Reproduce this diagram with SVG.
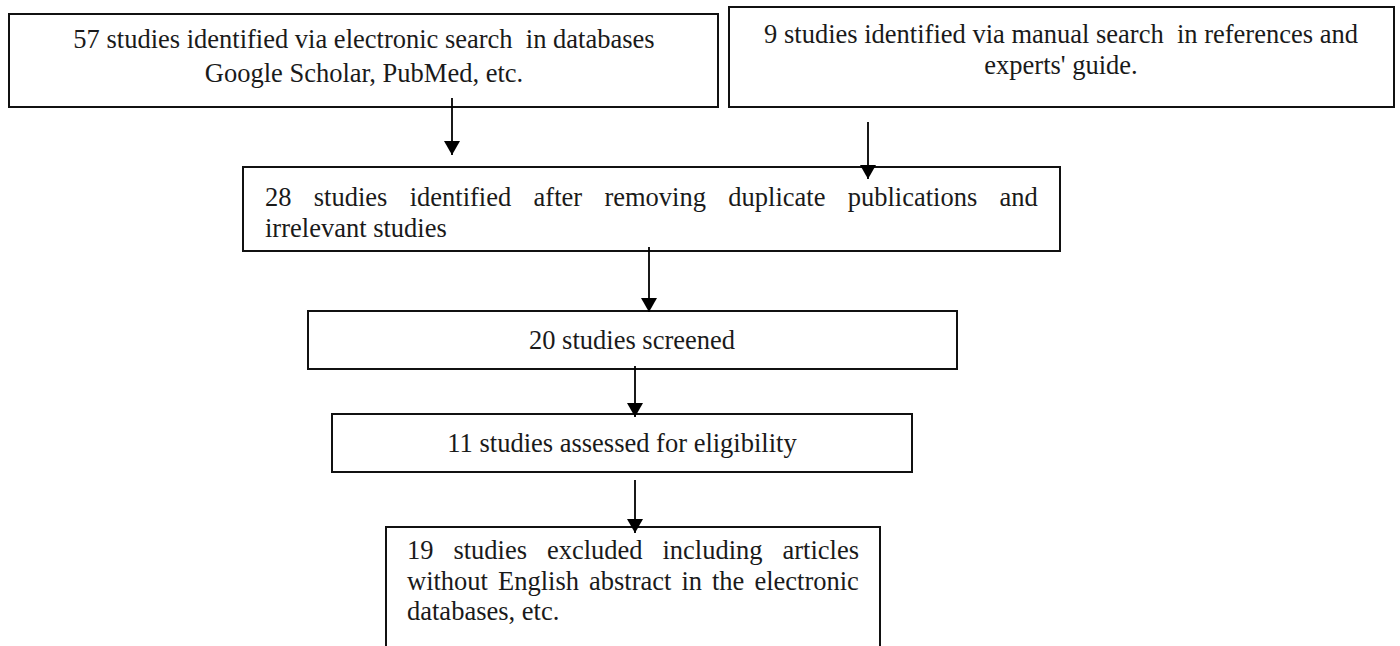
<svg xmlns="http://www.w3.org/2000/svg" width="1400" height="646" viewBox="0 0 1400 646">
  <style>
    .box { fill: #ffffff; stroke: #111111; stroke-width: 2; }
    .t { font-family: "Liberation Serif", "Times New Roman", serif; font-size: 26.5px; fill: #1a1a1a; }
    .c { text-anchor: middle; }
    .edge { stroke: #000000; stroke-width: 1.8; fill: none; marker-end: url(#arrow); }
  </style>
  <defs>
    <marker id="arrow" markerUnits="userSpaceOnUse" viewBox="0 0 14 16" refX="14" refY="8" markerWidth="14" markerHeight="16" orient="auto">
      <path d="M0,0 L14,8 L0,16 z" fill="#000000"/>
    </marker>
  </defs>
  <rect x="0" y="0" width="1400" height="646" fill="#ffffff"/>

  <g id="node-electronic">
    <rect class="box" x="9" y="14" width="709" height="93"/>
    <text class="t c" x="364" y="48" xml:space="preserve">57 studies identified via electronic search  in databases</text>
    <text class="t c" x="364" y="82">Google Scholar, PubMed, etc.</text>
  </g>

  <g id="node-manual">
    <rect class="box" x="729" y="7" width="665" height="100"/>
    <text class="t c" x="1061" y="43" xml:space="preserve">9 studies identified via manual search  in references and</text>
    <text class="t c" x="1061" y="74">experts' guide.</text>
  </g>

  <g id="node-deduplicated">
    <rect class="box" x="243" y="167" width="817" height="84"/>
    <text class="t" y="206"><tspan x="265">28</tspan><tspan x="313.8">studies</tspan><tspan x="409.7">identified</tspan><tspan x="533.6">after</tspan><tspan x="604.4">removing</tspan><tspan x="728.3">duplicate</tspan><tspan x="847.7">publications</tspan><tspan x="999.6">and</tspan></text>
    <text class="t" x="265" y="237">irrelevant studies</text>
  </g>

  <g id="node-screened">
    <rect class="box" x="308" y="311" width="649" height="58"/>
    <text class="t c" x="632" y="349">20 studies screened</text>
  </g>

  <g id="node-eligibility">
    <rect class="box" x="332" y="414" width="580" height="58"/>
    <text class="t c" x="622" y="452">11 studies assessed for eligibility</text>
  </g>

  <g id="node-excluded">
    <rect class="box" x="386" y="527" width="494" height="140"/>
    <text class="t" y="559"><tspan x="407">19</tspan><tspan x="453.4">studies</tspan><tspan x="546.9">excluded</tspan><tspan x="662.5">including</tspan><tspan x="782.5">articles</tspan></text>
    <text class="t" y="589.5"><tspan x="407">without</tspan><tspan x="498">English</tspan><tspan x="589">abstract</tspan><tspan x="681.4">in</tspan><tspan x="712">the</tspan><tspan x="754.4">electronic</tspan></text>
    <text class="t" x="407" y="620">databases, etc.</text>
  </g>

  <g id="connectors">
    <line class="edge" x1="452" y1="98" x2="452" y2="155"/>
    <line class="edge" x1="868" y1="122" x2="868" y2="179"/>
    <line class="edge" x1="649" y1="247" x2="649" y2="312"/>
    <line class="edge" x1="635" y1="366" x2="635" y2="417"/>
    <line class="edge" x1="635" y1="480" x2="635" y2="533"/>
  </g>
</svg>
